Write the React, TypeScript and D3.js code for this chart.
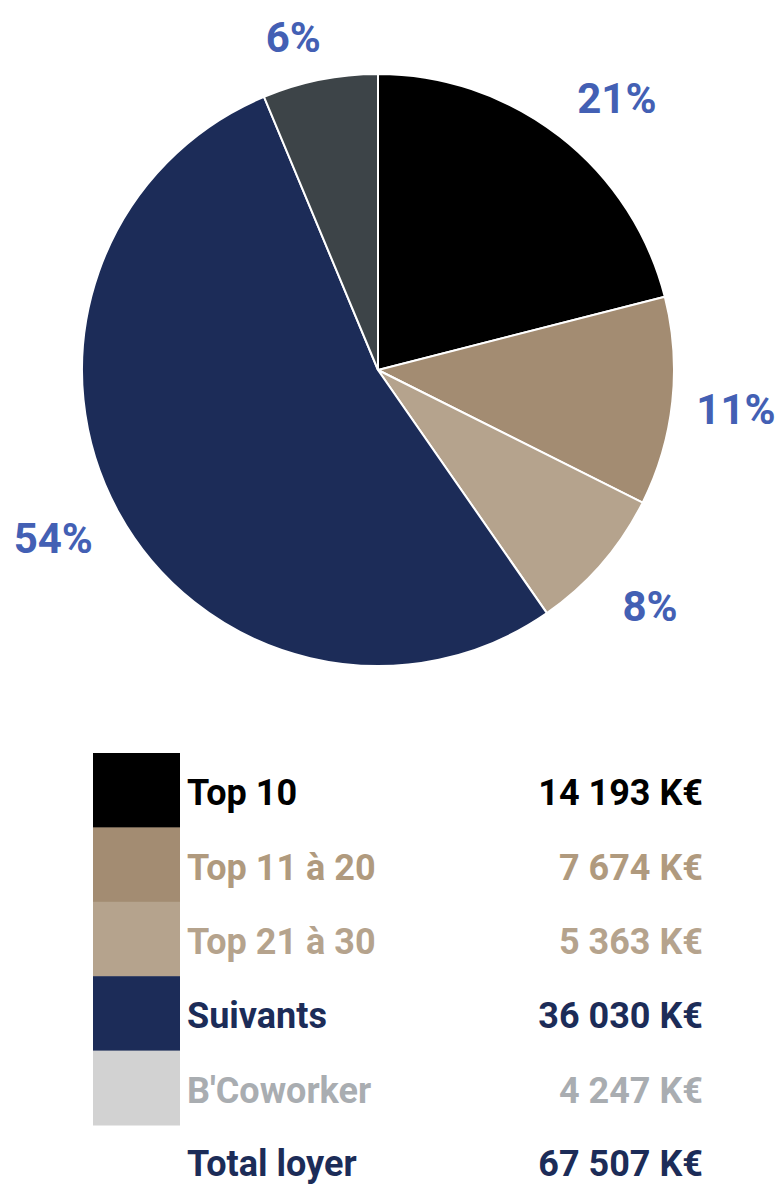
import React from "react";
import * as d3 from "d3";

const categories = ["Top 10", "Top 11 à 20", "Top 21 à 30", "Suivants", "B'Coworker"];
const values = [14193, 7674, 5363, 36030, 4247];
const pctLabels = ["21%", "11%", "8%", "54%", "6%"];
const valueLabels = ["14 193 K€", "7 674 K€", "5 363 K€", "36 030 K€", "4 247 K€"];
const totalLabel = "Total loyer";
const totalValueLabel = "67 507 K€";

const sliceColors = ["#000000", "#a38c72", "#b5a38d", "#1c2c58", "#3d4448"];
const swatchColors = ["#000000", "#a38c72", "#b5a38d", "#1c2c58", "#d2d2d2"];
const textColors = ["#000000", "#b09a7e", "#b5a38d", "#1c2c58", "#a9adb1"];
const totalColor = "#1c2c58";
const pctColor = "#4360b4";

// layout
const W = 778, H = 1184;
const cx = 378, cy = 370, R = 296;
const labelR = 360;
const labelNudge = [[18, 12], [0, 0], [0, 0], [-9, -5], [-14, 20]];
const FONT = "Roboto, 'Noto Sans', sans-serif";

export default function App() {
  const pie = d3.pie<number>().sort(null).value((d) => d)(values);
  const arc = d3.arc<d3.PieArcDatum<number>>().innerRadius(0).outerRadius(R);
  const legendTop = 753;
  const rowH = 74.4;
  const swX = 93, swW = 87;
  const labelX = 187, valueX = 703;

  return (
    <svg width={W} height={H} style={{ position: "absolute", left: 0, top: 0 }} fontFamily={FONT}>
      <rect width={W} height={H} fill="#fff" />
      <g transform={`translate(${cx},${cy})`}>
        {pie.map((p, i) => (
          <path key={i} d={arc(p) || ""} fill={sliceColors[i]} stroke="#fff" strokeWidth={2} />
        ))}
        {pie.map((p, i) => {
          const mid = (p.startAngle + p.endAngle) / 2;
          const x = labelR * Math.sin(mid) + labelNudge[i][0];
          const y = -labelR * Math.cos(mid) + labelNudge[i][1];
          return (
            <text key={i} x={x} y={y + 15} textAnchor="middle" fontSize={42} fontWeight={700} fill={pctColor}>
              {pctLabels[i]}
            </text>
          );
        })}
      </g>
      <g>
        {categories.map((c, i) => {
          const top = legendTop + i * rowH;
          return (
            <g key={c}>
              <rect x={swX} y={top} width={swW} height={rowH + 0.5} fill={swatchColors[i]} />
              <text x={labelX} y={top + rowH / 2 + 15} fontSize={36} fontWeight={700} fill={textColors[i]}>
                {c}
              </text>
              <text x={valueX} y={top + rowH / 2 + 15} fontSize={36} fontWeight={700} fill={textColors[i]} textAnchor="end">
                {valueLabels[i]}
              </text>
            </g>
          );
        })}
        <text x={labelX} y={legendTop + 5 * rowH + rowH / 2 + 14} fontSize={36} fontWeight={700} fill={totalColor}>
          {totalLabel}
        </text>
        <text x={valueX} y={legendTop + 5 * rowH + rowH / 2 + 14} fontSize={36} fontWeight={700} fill={totalColor} textAnchor="end">
          {totalValueLabel}
        </text>
      </g>
    </svg>
  );
}
